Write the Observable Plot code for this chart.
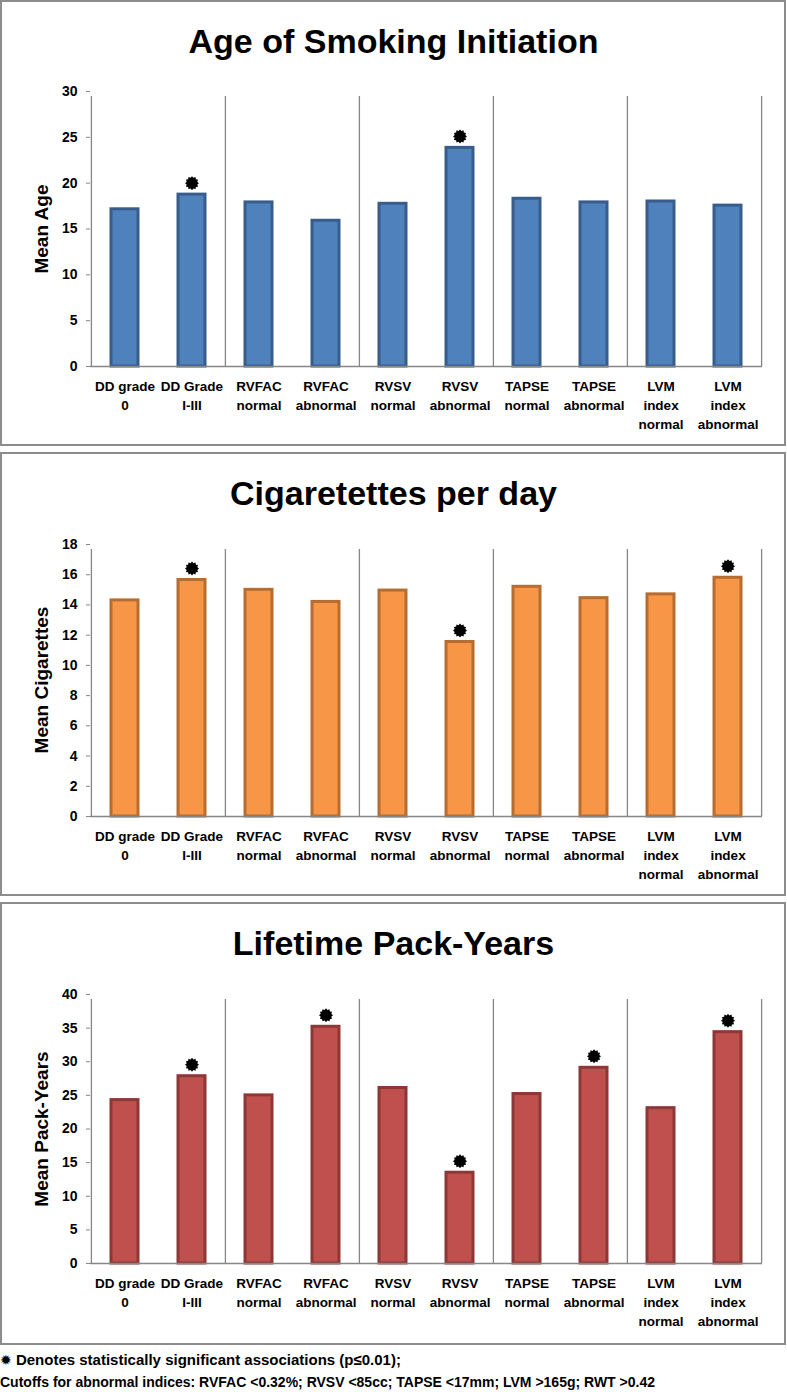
<!DOCTYPE html>
<html>
<head>
<meta charset="utf-8">
<script src="https://cdn.jsdelivr.net/npm/d3@7"></script>
<script src="https://cdn.jsdelivr.net/npm/@observablehq/plot@0.6"></script>
<style>
  html, body { margin: 0; padding: 0; background: #fff; }
  #page { position: relative; width: 787px; height: 1392px; overflow: hidden; font-family: "Liberation Sans", Arial, sans-serif; }
  .box { position: absolute; left: 0; width: 786px; box-sizing: border-box; border: 2px solid #8c8c8c; }
  .title { position: absolute; left: 0; width: 787px; text-align: center; font-weight: bold; font-size: 34px; line-height: 34px; color: #000; }
  .ylab { position: absolute; width: 300px; text-align: center; font-weight: bold; font-size: 19px; line-height: 20px; color: #000; transform: rotate(-90deg); }
  .chart { position: absolute; left: 0; }
  .note { position: absolute; left: 0; font-weight: bold; line-height: 18px; color: #000; white-space: nowrap; }
  .note .star { font-family: "DejaVu Sans", sans-serif; font-size: 14px; }
</style>
</head>
<body>
<div id="page"></div>
<script>
// ---- data ----
const categories = ["DD grade\n0", "DD Grade\nI-III", "RVFAC\nnormal", "RVFAC\nabnormal", "RVSV\nnormal", "RVSV\nabnormal", "TAPSE\nnormal", "TAPSE\nabnormal", "LVM\nindex\nnormal", "LVM\nindex\nabnormal"];

const ageValues = [17.15, 18.75, 17.9, 15.9, 17.75, 23.85, 18.3, 17.9, 18.0, 17.55];
const ageSignificant = [false, true, false, false, false, true, false, false, false, false];
const ageTicks = [0, 5, 10, 15, 20, 25, 30];

const cigValues = [14.3, 15.65, 15.0, 14.2, 14.95, 11.55, 15.2, 14.45, 14.7, 15.8];
const cigSignificant = [false, true, false, false, false, true, false, false, false, true];
const cigTicks = [0, 2, 4, 6, 8, 10, 12, 14, 16, 18];

const packValues = [24.3, 27.85, 25.0, 35.2, 26.1, 13.5, 25.2, 29.1, 23.1, 34.4];
const packSignificant = [false, true, false, true, false, true, false, true, false, true];
const packTicks = [0, 5, 10, 15, 20, 25, 30, 35, 40];

const titles = ["Age of Smoking Initiation", "Cigaretettes per day", "Lifetime Pack-Years"];
const yLabels = ["Mean Age", "Mean Cigarettes", "Mean Pack-Years"];
const note1 = "Denotes statistically significant associations (p\u22640.01);";
const note2 = "Cutoffs for abnormal indices: RVFAC <0.32%; RVSV <85cc; TAPSE <17mm; LVM >165g; RWT >0.42";

// ---- drawing ----
const page = document.getElementById("page");
const axisGray = "#868686";

const starSymbol = {
  draw(ctx, size) {
    const r = Math.sqrt(size / Math.PI), ri = r * 0.78, n = 12;
    for (let i = 0; i < 2 * n; i++) {
      const a = i * Math.PI / n - Math.PI / 2;
      const rr = i % 2 ? ri : r;
      const x = rr * Math.cos(a), y = rr * Math.sin(a);
      if (i) ctx.lineTo(x, y); else ctx.moveTo(x, y);
    }
    ctx.closePath();
  }
};

function panel(cfg) {
  const {title, yLabel, values, sig, ticks, fill, stroke, boxTop, boxHeight, plotTop, plotHeight} = cfg;
  const box = document.createElement("div");
  box.className = "box";
  box.style.top = boxTop + "px";
  box.style.height = boxHeight + "px";
  page.appendChild(box);

  const t = document.createElement("div");
  t.className = "title";
  t.style.top = (boxTop + 24) + "px";
  t.textContent = title;
  page.appendChild(t);

  const data = categories.map((c, i) => ({cat: c, value: values[i], sig: sig[i]}));
  const marginTop = 20;
  const svgTop = plotTop - marginTop;
  const marginBottom = boxTop + boxHeight - (plotTop + plotHeight);
  const height = marginTop + plotHeight + marginBottom;
  const yMax = ticks[ticks.length - 1];
  const step = (762 - 90) / categories.length;
  const leftEdges = categories.filter((c, i) => i % 2 === 0);
  const rightEdge = [categories[categories.length - 1]];

  const chart = Plot.plot({
    width: 787,
    height,
    marginLeft: 90,
    marginRight: 25,
    marginTop,
    marginBottom,
    style: {fontFamily: "Liberation Sans, Arial, sans-serif", fontWeight: "bold", fontSize: "13.5px", color: "#000", background: "transparent", overflow: "visible"},
    x: {domain: categories, paddingInner: 0.598, paddingOuter: 0.299, axis: null, label: null},
    y: {domain: [0, yMax], axis: null, label: null},
    marks: [
      Plot.ruleX(leftEdges, {x: d => d, y1: 0, y2: yMax, dx: -step / 2, stroke: axisGray, strokeWidth: 1.3, insetBottom: -5}),
      Plot.ruleX(rightEdge, {x: d => d, y1: 0, y2: yMax, dx: step / 2, stroke: axisGray, strokeWidth: 1.3, insetBottom: -5}),
      Plot.barY(data, {x: "cat", y: "value", fill, stroke, strokeWidth: 3}),
      Plot.ruleY([0], {stroke: axisGray, strokeWidth: 1.6}),
      Plot.axisY({ticks, tickSize: 4, tickPadding: 9, stroke: axisGray, fontSize: 14, label: null, tickFormat: d => String(d)}),
      Plot.axisX({tickSize: 0, tickPadding: 11, lineHeight: 1.42, fontSize: 13.5, label: null}),
      Plot.dot(data.filter(d => d.sig), {x: "cat", y: "value", symbol: starSymbol, r: 7, fill: "#000", stroke: "none", dy: -11.5})
    ]
  });
  chart.classList.add("chart");
  chart.style.position = "absolute";
  chart.style.top = svgTop + "px";
  chart.style.left = "0px";
  page.appendChild(chart);

  const yl = document.createElement("div");
  yl.className = "ylab";
  yl.style.left = (42 - 150) + "px";
  yl.style.top = (plotTop + plotHeight / 2 - 10) + "px";
  yl.textContent = yLabel;
  page.appendChild(yl);
}

panel({title: titles[0], yLabel: yLabels[0], values: ageValues, sig: ageSignificant, ticks: ageTicks,
  fill: "#4f81bd", stroke: "#385d8a", boxTop: 0, boxHeight: 446, plotTop: 91, plotHeight: 275});
panel({title: titles[1], yLabel: yLabels[1], values: cigValues, sig: cigSignificant, ticks: cigTicks,
  fill: "#f79646", stroke: "#b66d31", boxTop: 452, boxHeight: 444, plotTop: 544, plotHeight: 272});
panel({title: titles[2], yLabel: yLabels[2], values: packValues, sig: packSignificant, ticks: packTicks,
  fill: "#c0504d", stroke: "#8c3836", boxTop: 902, boxHeight: 443, plotTop: 994, plotHeight: 269});

const n1 = document.createElement("div");
n1.className = "note";
n1.style.top = "1351px";
n1.style.fontSize = "15px";
n1.innerHTML = '<span class="star">\u2739</span> ';
n1.appendChild(document.createTextNode(note1));
page.appendChild(n1);

const n2 = document.createElement("div");
n2.className = "note";
n2.style.top = "1373px";
n2.style.fontSize = "14px";
n2.textContent = note2;
page.appendChild(n2);
</script>
</body>
</html>
